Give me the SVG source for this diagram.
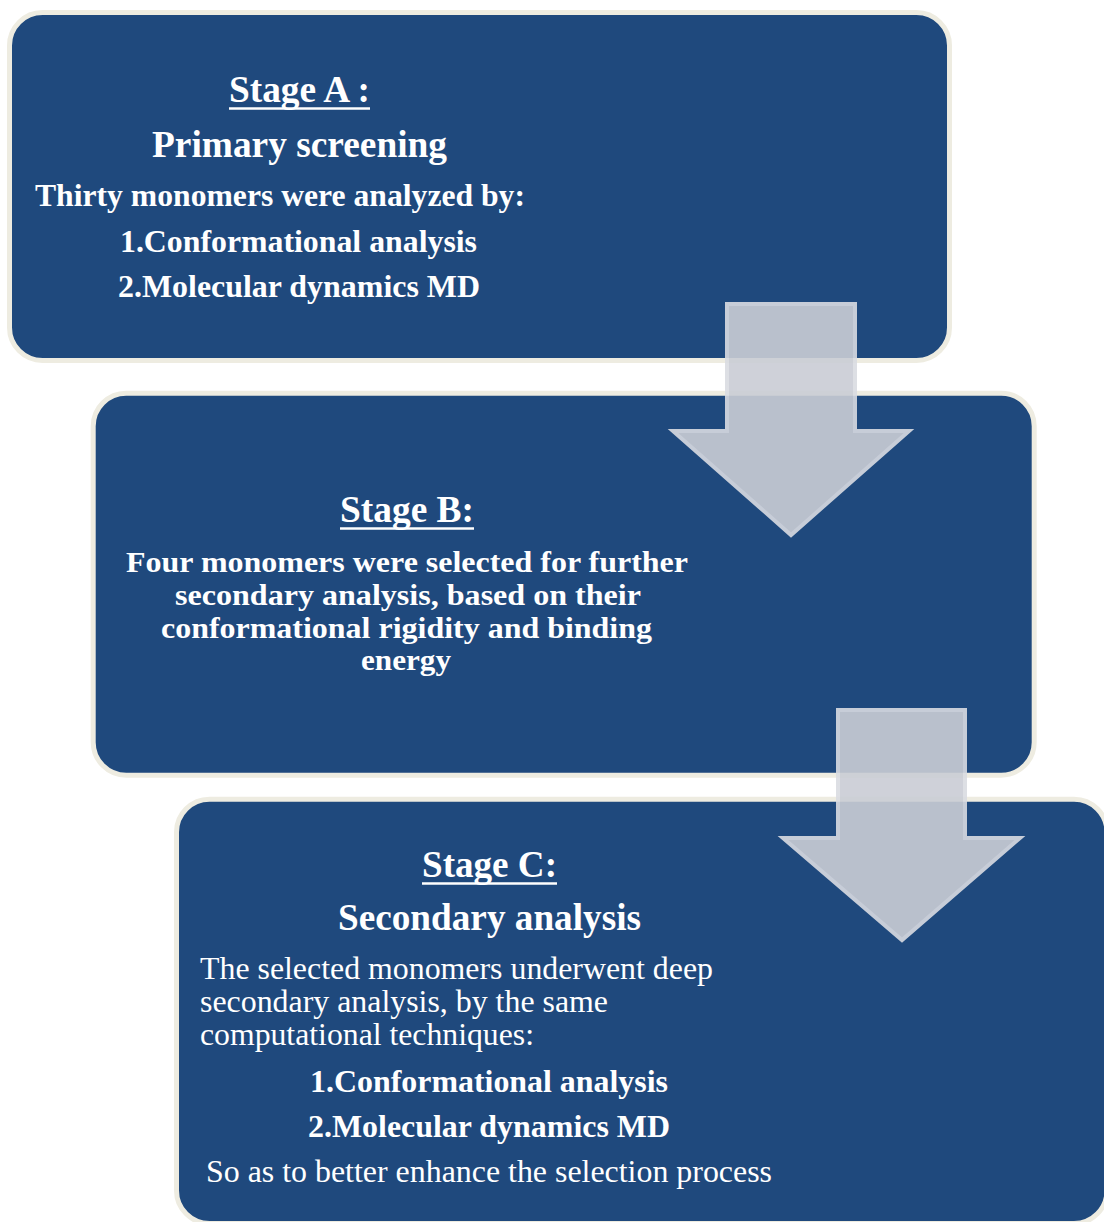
<svg xmlns="http://www.w3.org/2000/svg" width="1104" height="1222" viewBox="0 0 1104 1222">
<style>
.box{fill:#1f497d;stroke:#eeece1;stroke-width:5}
.t{fill:#ffffff;font-family:"Liberation Serif","Times New Roman",serif;font-weight:bold}
.r{fill:#ffffff;font-family:"Liberation Serif","Times New Roman",serif;font-weight:normal}
.h{font-size:37px}
.b{font-size:31px}
.s{font-size:29.5px}
.ul{stroke:#ffffff;stroke-width:2.5}
.arrow{fill:#cacdd5;stroke:#dadce2;stroke-width:4;opacity:0.9}
</style>
<rect width="1104" height="1222" fill="#ffffff"/>
<g id="stageA">
<rect class="box" x="9.5" y="12.5" width="940" height="348" rx="33" ry="33"/>
<text class="t h" x="229" y="102" textLength="141" lengthAdjust="spacingAndGlyphs">Stage A :</text>
<line class="ul" x1="229" y1="108.5" x2="370" y2="108.5"/>
<text class="t h" x="152" y="157" textLength="295" lengthAdjust="spacingAndGlyphs">Primary screening</text>
<text class="t b" x="35" y="206" textLength="490" lengthAdjust="spacingAndGlyphs">Thirty monomers were analyzed by:</text>
<text class="t b" x="120" y="252" textLength="357" lengthAdjust="spacingAndGlyphs">1.Conformational analysis</text>
<text class="t b" x="118" y="297" textLength="362" lengthAdjust="spacingAndGlyphs">2.Molecular dynamics MD</text>
</g>
<g id="stageB">
<rect class="box" x="93.2" y="393.2" width="941" height="382" rx="33" ry="33"/>
<text class="t h" x="340" y="522" textLength="134" lengthAdjust="spacingAndGlyphs">Stage B:</text>
<line class="ul" x1="340" y1="528.5" x2="474" y2="528.5"/>
<text class="t s" x="126" y="572" textLength="562" lengthAdjust="spacingAndGlyphs">Four monomers were selected for further</text>
<text class="t s" x="175" y="605" textLength="466" lengthAdjust="spacingAndGlyphs">secondary analysis, based on their</text>
<text class="t s" x="161" y="638" textLength="491" lengthAdjust="spacingAndGlyphs">conformational rigidity and binding</text>
<text class="t s" x="361" y="670" textLength="90" lengthAdjust="spacingAndGlyphs">energy</text>
</g>
<g id="stageC">
<rect class="box" x="176.5" y="799.2" width="930.5" height="424.3" rx="33" ry="33"/>
<text class="t h" x="422" y="877" textLength="135" lengthAdjust="spacingAndGlyphs">Stage C:</text>
<line class="ul" x1="422" y1="883.5" x2="557" y2="883.5"/>
<text class="t h" x="338" y="930" textLength="303" lengthAdjust="spacingAndGlyphs">Secondary analysis</text>
<text class="r b" x="200" y="979" textLength="513" lengthAdjust="spacingAndGlyphs">The selected monomers underwent deep</text>
<text class="r b" x="200" y="1012" textLength="408" lengthAdjust="spacingAndGlyphs">secondary analysis, by the same</text>
<text class="r b" x="200" y="1045" textLength="334" lengthAdjust="spacingAndGlyphs">computational techniques:</text>
<text class="t b" x="310" y="1092" textLength="358" lengthAdjust="spacingAndGlyphs">1.Conformational analysis</text>
<text class="t b" x="308" y="1137" textLength="362" lengthAdjust="spacingAndGlyphs">2.Molecular dynamics MD</text>
<text class="r b" x="206" y="1182" textLength="566" lengthAdjust="spacingAndGlyphs">So as to better enhance the selection process</text>
</g>
<g id="connectors">
<polygon id="arrowAB" class="arrow" points="727,304 855,304 855,431 909,431 791,535 673,431 727,431"/>
<polygon id="arrowBC" class="arrow" points="838,710 965,710 965,838 1020,838 902,940 783,838 838,838"/>
</g>
</svg>
